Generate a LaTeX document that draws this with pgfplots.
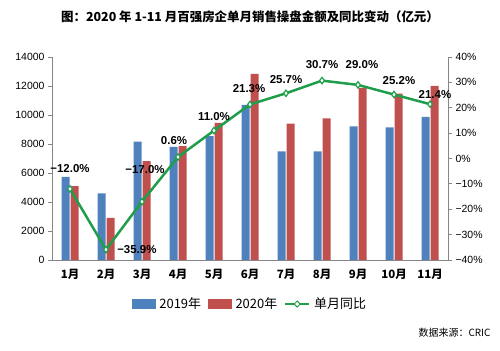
\documentclass[border=0pt]{standalone}
\usepackage{fontspec}
\setmainfont{Liberation Sans}
\newfontfamily\cjk{Noto Sans CJK SC}
\usepackage{pgfplots}
\pgfplotsset{compat=1.18}
\usepackage{pgfplotstable}
\definecolor{cblue}{HTML}{4F81BD}
\definecolor{cred}{HTML}{C0504D}
\definecolor{cgreen}{HTML}{1E9E4A}
\definecolor{caxis}{HTML}{868686}

\pgfplotstableread{
x y19 y20
0 5740 5100
1 4590 2910
2 8170 6820
3 7800 7850
4 8540 9460
5 10690 12830
6 7490 9410
7 7490 9760
8 9210 11870
9 9140 11480
10 9870 12010
}\bartab

\pgfplotstableread{
x pct lab xo yo
0 -12.0 {−12.0\%} 0 20
1 -35.9 {−35.9\%} 31 0
2 -17.0 {−17.0\%} 3 32
3 0.6 {0.6\%} -4 16
4 11.0 {11.0\%} 0 14
5 21.3 {21.3\%} -1 16
6 25.7 {25.7\%} 0 14
7 30.7 {30.7\%} 0 16
8 29.0 {29.0\%} 4 20
9 25.2 {25.2\%} 5 14
10 21.4 {21.4\%} 5 10
}\pcttab

\begin{document}
\begin{tikzpicture}
\path[use as bounding box] (0,0) rectangle (500bp,351bp);
\node[font=\cjk\bfseries\fontsize{12.5}{14}\selectfont] at (250bp,334bp) {图：2020 年 1-11 月百强房企单月销售操盘金额及同比变动（亿元）};
\node[font=\cjk\fontsize{10}{12}\selectfont, anchor=east] at (494bp,18bp) {数据来源：CRIC};

\begin{axis}[
  at={(52bp,91bp)}, anchor=south west,
  scale only axis, width=396bp, height=203bp,
  xmin=-0.5, xmax=10.5, ymin=0, ymax=14000,
  axis y line*=left, axis x line*=bottom,
  axis line style={caxis, line width=0.8pt},
  ybar=1bp, bar width=8bp,
  xtick={0,...,10},
  xticklabels={1月,2月,3月,4月,5月,6月,7月,8月,9月,10月,11月},
  x tick label style={font=\cjk\bfseries\fontsize{11.5}{13}\selectfont, yshift=-2bp},
  major x tick style={draw=none},
  extra x ticks={-0.5,0.5,...,10.5},
  extra x tick labels={},
  extra x tick style={major tick length=4bp, tick align=outside, tick style={draw=caxis, line width=0.8pt}},
  ytick={0,2000,...,14000},
  scaled y ticks=false,
  y tick label style={font=\fontsize{10.5}{12}\selectfont},
  /pgf/number format/1000 sep={},
  /pgf/number format/assume math mode=true,
  major tick length=4bp, tick align=outside,
  y tick style={draw=caxis, line width=0.8pt},
  clip=false,
]
\addplot[fill=cblue, draw=none] table[x=x, y=y19] {\bartab};
\addplot[fill=cred, draw=none] table[x=x, y=y20] {\bartab};
\end{axis}

\begin{axis}[
  at={(52bp,91bp)}, anchor=south west,
  scale only axis, width=396bp, height=203bp,
  xmin=-0.5, xmax=10.5, ymin=-40, ymax=40,
  axis y line*=right, axis x line=none,
  axis line style={caxis, line width=0.8pt},
  ytick={-40,-30,...,40},
  yticklabels={−40\%,−30\%,−20\%,−10\%,0\%,10\%,20\%,30\%,40\%},
  y tick label style={font=\fontsize{10.5}{12}\selectfont},
  major tick length=4bp, tick align=outside,
  y tick style={draw=caxis, line width=0.8pt},
  clip=false,
  legend style={at={(0.5,-0.217)}, anchor=center, draw=none, fill=none,
    legend columns=3, font=\cjk\fontsize{13}{15}\selectfont,
    /tikz/every odd column/.append style={column sep=2bp},
    /tikz/every even column/.append style={column sep=5bp}},
]
\addlegendimage{legend image code/.code={\fill[cblue] (0bp,-4.5bp) rectangle (23bp,4.5bp);}}
\addlegendentry{2019年}
\addlegendimage{legend image code/.code={\fill[cred] (0bp,-4.5bp) rectangle (23bp,4.5bp);}}
\addlegendentry{2020年}
\addplot[cgreen, line width=2.5pt, mark=diamond*, mark size=3.2bp,
  mark options={fill=white, draw=cgreen, line width=1.2pt},
  legend image code/.code={\draw[cgreen, line width=2pt] (0bp,0bp) -- (24bp,0bp); \draw[cgreen, fill=white, line width=1pt] (12bp,0bp) +(-3bp,0) -- +(0,3bp) -- +(3bp,0) -- +(0,-3bp) -- cycle;},
  point meta=explicit symbolic,
  nodes near coords,
  visualization depends on={\thisrow{xo} \as \xo},
  visualization depends on={\thisrow{yo} \as \yo},
  nodes near coords style={anchor=center, xshift=\xo pt, yshift=\yo pt, font=\bfseries\fontsize{11.5}{13}\selectfont, text=black},
] table[x=x, y=pct, meta=lab] {\pcttab};
\addlegendentry{单月同比}
\end{axis}
\end{tikzpicture}
\end{document}
